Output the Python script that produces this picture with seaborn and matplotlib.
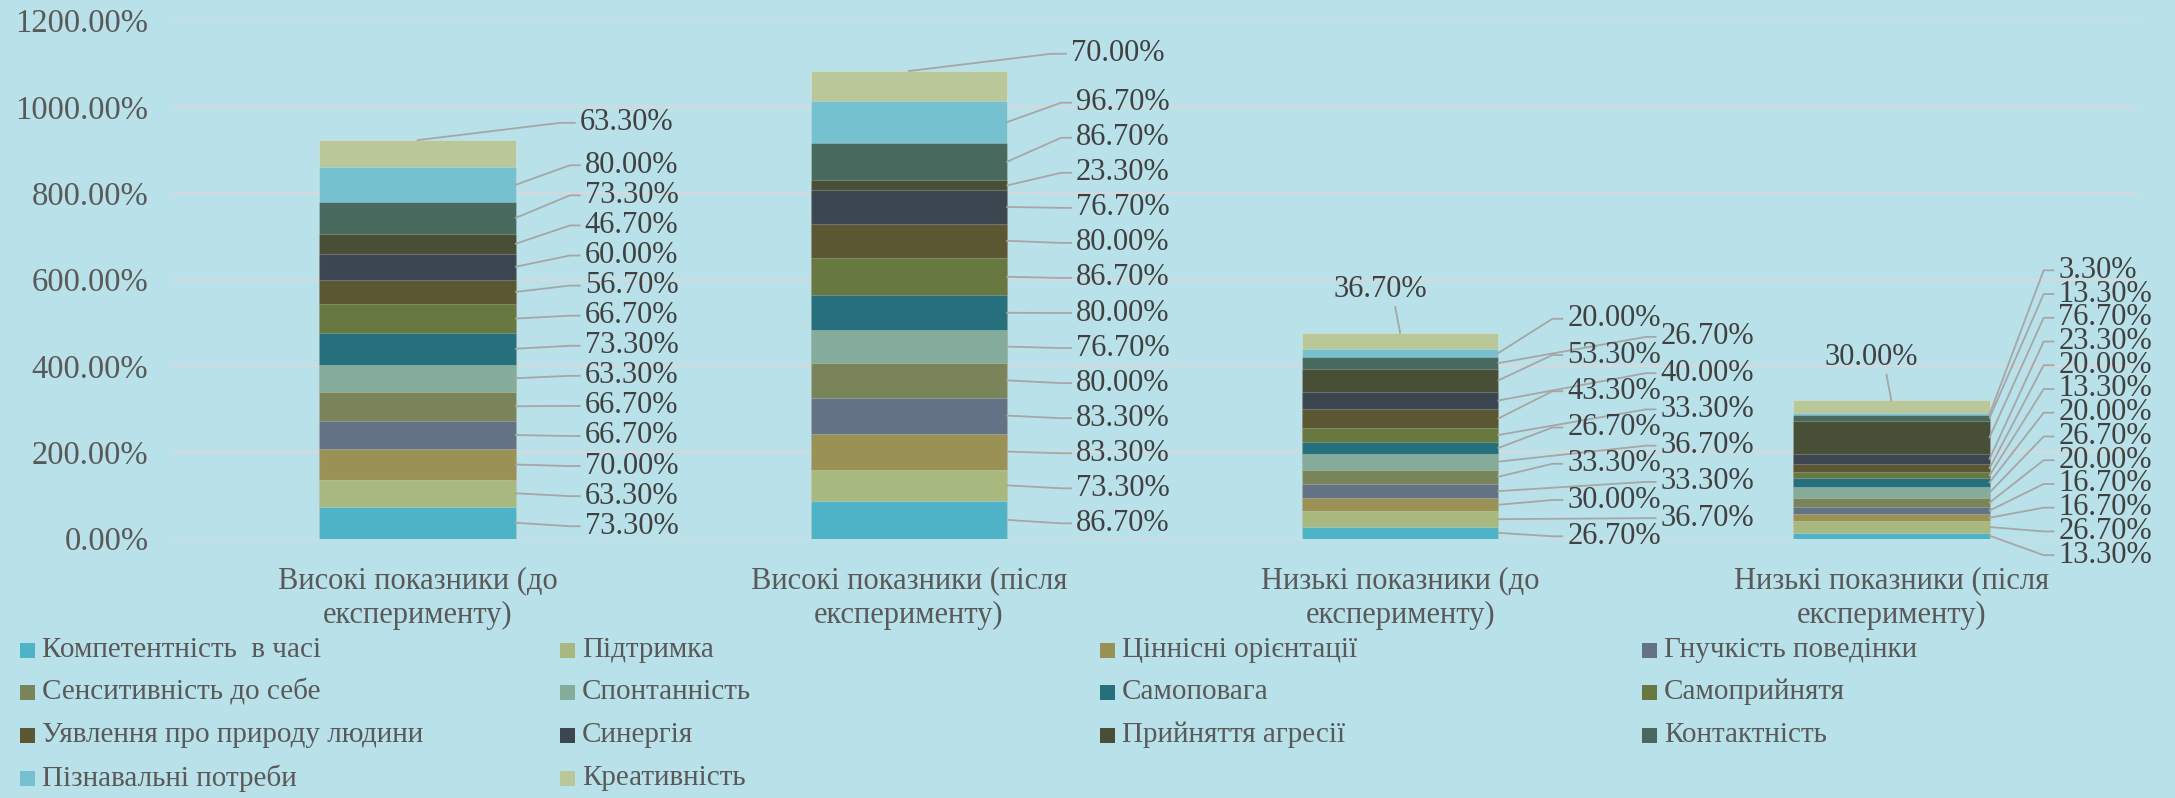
import numpy as np
import pandas as pd
import matplotlib
matplotlib.use("Agg")
import matplotlib.pyplot as plt
import seaborn as sns
from matplotlib.patches import Rectangle

# ---------------- data ----------------
categories = [
    "Високі показники (до\nексперименту)",
    "Високі показники (після\nексперименту)",
    "Низькі показники (до\nексперименту)",
    "Низькі показники (після\nексперименту)",
]
series_names = [
    "Компетентність  в часі", "Підтримка", "Ціннісні орієнтації", "Гнучкість поведінки",
    "Сенситивність до себе", "Спонтанність", "Самоповага", "Самоприйнятя",
    "Уявлення про природу людини", "Синергія", "Прийняття агресії", "Контактність",
    "Пізнавальні потреби", "Креативність",
]
high_before = [73.3, 63.3, 70.0, 66.7, 66.7, 63.3, 73.3, 66.7, 56.7, 60.0, 46.7, 73.3, 80.0, 63.3]
high_after = [86.7, 73.3, 83.3, 83.3, 80.0, 76.7, 80.0, 86.7, 80.0, 76.7, 23.3, 86.7, 96.7, 70.0]
low_before = [26.7, 36.7, 30.0, 33.3, 33.3, 36.7, 26.7, 33.3, 43.3, 40.0, 53.3, 26.7, 20.0, 36.7]
low_after = [13.3, 26.7, 16.7, 16.7, 20.0, 26.7, 20.0, 13.3, 20.0, 23.3, 76.7, 13.3, 3.3, 30.0]
y_ticks = [0, 200, 400, 600, 800, 1000, 1200]

colors = ["#4FB3C8", "#A8B97F", "#9A9155", "#637285", "#7A845A", "#85AB9A", "#26707E",
          "#677840", "#5B5732", "#3C4650", "#484F36", "#486A5E", "#75C1D0", "#BAC799"]

BG = "#B9E1E9"
GRID = "#D5D9DB"
TXT = "#595959"
LBL = "#404040"
LEAD = "#A6A6A6"

plt.rcParams['font.family'] = ['Liberation Serif', 'DejaVu Serif']

bars = [high_before, high_after, low_before, low_after]
rows = []
for cat, vals in zip(categories, bars):
    cum = np.cumsum(vals)
    for name, v, c in zip(series_names, vals, cum):
        rows.append({"category": cat, "series": name, "value": v, "cum": c})
df = pd.DataFrame(rows)

W, H = 2175, 798
fig = plt.figure(figsize=(W / 100, H / 100), dpi=100)
fig.patch.set_facecolor(BG)
ax_l, ax_r, ax_t, ax_b = 172, 2137, 20.7, 538.6
ax = fig.add_axes([ax_l / W, 1 - ax_b / H, (ax_r - ax_l) / W, (ax_b - ax_t) / H])
ax.set_facecolor(BG)

BW = 0.4
# stacked bars: draw cumulative totals from the top series down
for i in range(len(series_names) - 1, -1, -1):
    sub = df[df["series"] == series_names[i]]
    sns.barplot(data=sub, x="category", y="cum", order=categories, color=colors[i],
                saturation=1, width=BW, errorbar=None, ax=ax,
                edgecolor=(1, 1, 1, 0.22), linewidth=0.8)

ax.set_xlim(-0.5, 3.5)
ax.set_ylim(0, 1200)
ax.set_yticks(y_ticks)
ax.set_yticklabels([f"{t:.2f}%" for t in y_ticks], fontsize=23.5, color=TXT)
ax.yaxis.grid(True, color=GRID, linewidth=1.6)
ax.set_axisbelow(True)
ax.set_xlabel("")
ax.set_ylabel("")
for s in ax.spines.values():
    s.set_visible(False)
ax.tick_params(axis="y", length=0, pad=17)
ax.set_xticks(range(len(categories)))
ax.set_xticklabels(categories, fontsize=22, color=TXT, linespacing=1.25)
ax.tick_params(axis="x", length=0, pad=20)

# ---------------- data labels with leader lines ----------------
for j, vals in enumerate(bars):
    vals = np.array(vals)
    cum = np.cumsum(vals)
    mids = cum - vals / 2
    total = cum[-1]
    n = len(vals) - 1
    lo = mids[0] - 8
    hi = max(mids[n - 1] + 45, lo + (n - 1) * 42)
    step = (hi - lo) / (n - 1)
    crowded = step < 60
    room_right = j < len(bars) - 1
    stagger = crowded and room_right
    if crowded and not room_right:
        # no room to stagger: spread the column of labels instead
        lo = mids[0] - 45
        hi = lo + (n - 1) * 55
    ys = np.linspace(lo, hi, n)
    right = j + BW / 2
    for k in range(n):
        dx = 0.33 if (stagger and k % 2 == 1) else 0.14
        ax.plot([right, right + dx - 0.03, right + dx - 0.01], [mids[k], ys[k], ys[k]],
                color=LEAD, lw=1.3, clip_on=False, zorder=3)
        ax.text(right + dx, ys[k], f"{vals[k]:.2f}%", fontsize=22, color=LBL,
                va="center", ha="left", clip_on=False, zorder=4)
    # top series label
    if hi > total - 30:
        ty = total + 100
        ax.plot([j, j - 0.01], [total, ty - 40], color=LEAD, lw=1.3, clip_on=False, zorder=3)
        ax.text(j - 0.04, ty, f"{vals[-1]:.2f}%", fontsize=22, color=LBL,
                va="center", ha="center", clip_on=False, zorder=4)
    else:
        ty = total + 40
        ax.plot([j, j + 0.29, j + 0.32], [total, ty, ty], color=LEAD, lw=1.3,
                clip_on=False, zorder=3)
        ax.text(j + 0.33, ty, f"{vals[-1]:.2f}%", fontsize=22, color=LBL,
                va="center", ha="left", clip_on=False, zorder=4)

# ---------------- legend (4 columns, row-major) ----------------
col_x = [20, 560, 1100, 1642]
row_y = [650, 692, 735, 778]
msz = 15
for i, name in enumerate(series_names):
    r, c = divmod(i, 4)
    x0, yc = col_x[c], row_y[r]
    fig.patches.append(Rectangle((x0 / W, 1 - (yc + msz / 2) / H), msz / W, msz / H,
                                 transform=fig.transFigure, facecolor=colors[i],
                                 edgecolor="none"))
    fig.text((x0 + msz + 7) / W, 1 - yc / H, name, fontsize=21, color=TXT,
             va="center", ha="left")

fig.savefig("out.png", dpi=100, facecolor=BG)
